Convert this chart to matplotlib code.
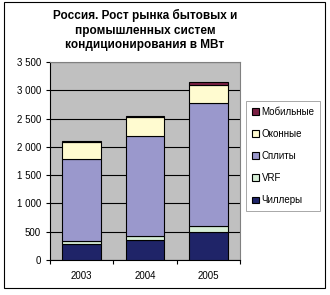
import matplotlib
matplotlib.use("Agg")
import matplotlib.pyplot as plt
from matplotlib.patches import Rectangle
from matplotlib.ticker import FuncFormatter

years = ["2003", "2004", "2005"]
chillers = [280, 350, 490]
vrf = [50, 70, 110]
splits = [1450, 1780, 2170]
windows = [310, 320, 330]
mobile = [15, 30, 45]

series = [
    ("Чиллеры", chillers, "#1F2468"),
    ("VRF", vrf, "#D6EED6"),
    ("Сплиты", splits, "#9A98CC"),
    ("Оконные", windows, "#FFFBD0"),
    ("Мобильные", mobile, "#7A1F43"),
]

plt.rcParams["font.family"] = ["Liberation Sans", "DejaVu Sans"]

fig = plt.figure(figsize=(3.3, 2.95), dpi=100)
ax = fig.add_axes([50 / 330, 1 - 260 / 295, 190 / 330, 198 / 295])
ax.set_facecolor("#C0C0C0")

x = list(range(len(years)))
bottom = [0] * len(years)
handles = []
for name, vals, color in series:
    h = ax.bar(x, vals, bottom=bottom, width=0.61, color=color,
               edgecolor="black", linewidth=0.8, label=name, zorder=3)
    handles.append(h)
    bottom = [b + v for b, v in zip(bottom, vals)]

ax.set_xlim(-0.5, 2.5)
ax.set_ylim(0, 3500)
ax.set_yticks(range(0, 3501, 500))
ax.yaxis.set_major_formatter(FuncFormatter(lambda v, p: f"{int(v):,}".replace(",", " ")))
ax.grid(axis="y", color="black", linewidth=0.8, zorder=1)

# category ticks between bars, labels centred
ax.set_xticks([-0.5, 0.5, 1.5, 2.5])
ax.set_xticklabels([])
ax.set_xticks(x, minor=True)
ax.set_xticklabels(years, minor=True)
ax.tick_params(axis="x", which="minor", length=0, pad=8)
ax.tick_params(axis="x", which="major", length=3, direction="out")
ax.tick_params(axis="y", length=3, direction="out")
ax.tick_params(which="both", labelsize=7)

for s in ["top", "right"]:
    ax.spines[s].set_color("#808080")
ax.spines["left"].set_color("black")
ax.spines["bottom"].set_color("black")

fig.text(145 / 330, 1 - 30 / 295,
         "Россия. Рост рынка бытовых и\nпромышленных систем\nкондиционирования в МВт",
         ha="center", va="center", fontsize=8.5, fontweight="bold", linespacing=1.3)

leg = fig.legend(handles[::-1], [s[0] for s in series][::-1],
                 loc="upper left", bbox_to_anchor=(246 / 330, 1 - 101 / 295),
                 fontsize=7, frameon=True, fancybox=False, edgecolor="#808080",
                 handlelength=0.7, handleheight=0.7, handletextpad=0.3,
                 labelspacing=1.25, borderpad=0.6, borderaxespad=0)
leg.get_frame().set_linewidth(0.6)

fig.patches.append(Rectangle((4 / 330, 1 - 288 / 295), 321 / 330, 286 / 295,
                             transform=fig.transFigure, fill=False,
                             edgecolor="black", linewidth=0.8))

fig.savefig("out.png", dpi=100)
